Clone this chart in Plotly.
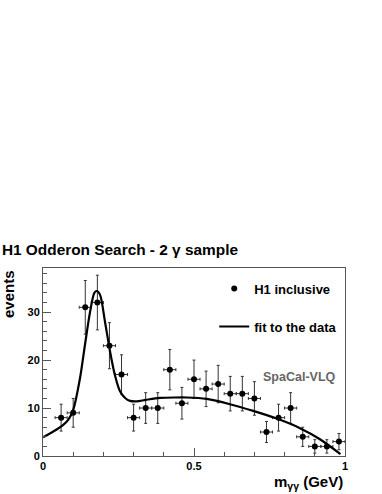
import plotly.graph_objects as go

# --- data ---
bin_centers = [0.06, 0.10, 0.14, 0.18, 0.22, 0.26, 0.30, 0.34, 0.38, 0.42, 0.46, 0.50,
               0.54, 0.58, 0.62, 0.66, 0.70, 0.74, 0.78, 0.82, 0.86, 0.90, 0.94, 0.98]
events = [8, 9, 31, 32, 23, 17, 8, 10, 10, 18, 11, 16,
          14, 15, 13, 13, 12, 5, 8, 10, 4, 2, 2, 3]
event_errors = [2.8, 3.0, 5.6, 5.7, 4.8, 4.1, 2.8, 3.2, 3.2, 4.2, 3.3, 4.0,
                3.7, 3.9, 3.6, 3.6, 3.5, 2.2, 2.8, 3.2, 2.0, 1.4, 1.4, 1.7]
bin_half_width = [0.02] * len(bin_centers)

fit_x = [0.0, 0.034, 0.067, 0.084, 0.100, 0.1225, 0.139, 0.156, 0.170, 0.178, 0.189,
         0.205, 0.222, 0.238, 0.255, 0.272, 0.288, 0.31, 0.34, 0.387, 0.44, 0.476,
         0.542, 0.619, 0.696, 0.774, 0.851, 0.917, 0.985]
fit_y = [3.9, 5.1, 6.5, 7.6, 9.6, 16.2, 23.2, 30.1, 34.0, 34.4, 33.6,
         28.1, 21.8, 16.9, 13.5, 12.1, 11.5, 11.4, 11.7, 12.1, 12.2, 12.2,
         11.9, 10.8, 9.4, 7.8, 5.8, 3.5, 0.4]

x_tick_vals = [0, 0.5, 1]
x_tick_text = ["0", "0.5", "1"]
y_tick_vals = [0, 10, 20, 30]

FONT = "Liberation Sans, Arial, Helvetica, sans-serif"

fig = go.Figure()

fig.add_trace(go.Scatter(
    x=bin_centers, y=events, mode="markers", name="H1 inclusive",
    marker=dict(color="black", size=6),
    error_y=dict(type="data", array=event_errors, color="#333333", thickness=1, width=1.5),
    error_x=dict(type="data", array=bin_half_width, color="#333333", thickness=1, width=1.5),
    legendgroup="a",
))

fig.add_trace(go.Scatter(
    x=fit_x, y=fit_y, mode="lines", name="fit to the data",
    line=dict(color="black", width=2.2, shape="spline", smoothing=0.8),
    legendgroup="b",
))

fig.update_layout(
    width=382, height=494,
    margin=dict(l=43, r=37, t=268, b=38),
    paper_bgcolor="white", plot_bgcolor="white",
    font=dict(family=FONT, color="black", size=11, weight="bold"),
    title=dict(text="H1 Odderon Search - 2 γ sample",
               font=dict(family=FONT, size=15.4, color="black", weight="bold"),
               xref="container", x=0.005, xanchor="left",
               yref="container", y=1 - 250 / 494, yanchor="middle"),
    showlegend=True,
    legend=dict(x=0.567, y=0.97, xanchor="left", yanchor="top",
                bgcolor="rgba(0,0,0,0)", traceorder="grouped", tracegroupgap=18,
                itemwidth=30,
                font=dict(family=FONT, size=13, color="black", weight="bold")),
    xaxis=dict(range=[0, 1], showgrid=False, zeroline=False,
               showline=True, linecolor="#555555", linewidth=1, mirror=True,
               ticks="inside", ticklen=8, tickcolor="#555555",
               tickvals=x_tick_vals, ticktext=x_tick_text,
               tickfont=dict(size=11, weight="bold"),
               minor=dict(dtick=0.1, ticks="inside", ticklen=4, tickcolor="#555555")),
    yaxis=dict(range=[0, 39.2], showgrid=False, zeroline=False,
               showline=True, linecolor="#555555", linewidth=1, mirror=True,
               ticks="inside", ticklen=8, tickcolor="#555555",
               tickvals=y_tick_vals, tickfont=dict(size=11, weight="bold"),
               minor=dict(dtick=2, ticks="inside", ticklen=4, tickcolor="#555555")),
    annotations=[
        dict(text="m<sub>γγ</sub> (GeV)", xref="paper", yref="paper",
             x=1.0, y=(456 - 482) / 188, xanchor="right", yanchor="middle",
             showarrow=False, font=dict(family=FONT, size=15, weight="bold")),
        dict(text="events", xref="paper", yref="paper", textangle=-90,
             x=(8 - 43) / 302, y=1.0, xanchor="center", yanchor="top",
             showarrow=False, font=dict(family=FONT, size=15, weight="bold")),
        dict(text="SpaCal-VLQ", xref="x", yref="y", x=0.848, y=16.5,
             xanchor="center", yanchor="middle", showarrow=False,
             font=dict(family=FONT, size=12.5, color="#666666", weight="bold")),
    ],
)

fig.write_html("out.html",
               config={"displayModeBar": False},
               post_script="document.body.style.margin='0';document.body.style.overflow='hidden';")
